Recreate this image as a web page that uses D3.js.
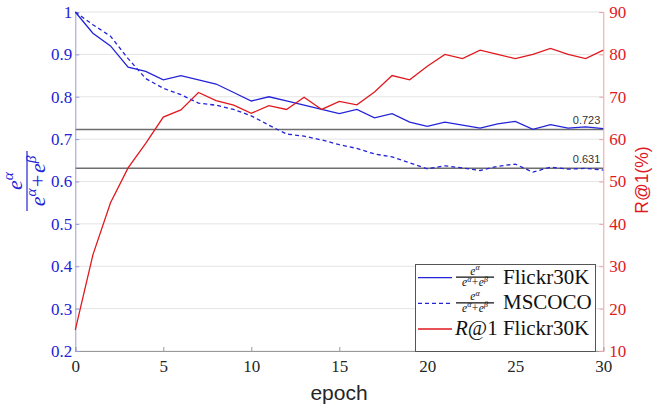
<!DOCTYPE html>
<html>
<head>
<meta charset="utf-8">
<script src="https://cdn.jsdelivr.net/npm/d3@7"></script>
<style>
  body { margin: 0; background: #fff; }
  svg { display: block; }
</style>
</head>
<body>
<svg id="chart" width="663" height="407"></svg>
<script>
// data
var epochs = [0, 1, 2, 3, 4, 5, 6, 7, 8, 9, 10, 11, 12, 13, 14, 15, 16, 17, 18, 19, 20,
              21, 22, 23, 24, 25, 26, 27, 28, 29, 30];
var flickrRatio = [1.0, 0.95, 0.92, 0.87, 0.86, 0.84, 0.85, 0.84, 0.83, 0.81, 0.79,
                   0.80, 0.79, 0.78, 0.77, 0.76, 0.77, 0.75, 0.76, 0.74, 0.73,
                   0.74, 0.733, 0.726, 0.736, 0.742, 0.723, 0.734, 0.726, 0.729, 0.725];
var cocoRatio = [1.0, 0.97, 0.943, 0.89, 0.843, 0.82, 0.805, 0.785, 0.78, 0.77, 0.755,
                 0.733, 0.712, 0.707, 0.698, 0.687, 0.678, 0.665, 0.658, 0.644, 0.63,
                 0.637, 0.632, 0.626, 0.636, 0.641, 0.622, 0.634, 0.629, 0.631, 0.627];
var flickrR1 = [15, 32.7, 45, 53.2, 59, 65.2, 66.9, 71, 69.1, 68, 66.1,
                67.9, 67, 69.9, 67, 68.9, 68.1, 71.1, 75, 74, 77.2,
                80, 79, 81, 80, 79, 80, 81.4, 80, 79, 81];
var refLevels = [0.723, 0.631];
var xTicks = [0, 5, 10, 15, 20, 25, 30];
var leftTicks = [0.2, 0.3, 0.4, 0.5, 0.6, 0.7, 0.8, 0.9, 1];
var rightTicks = [10, 20, 30, 40, 50, 60, 70, 80, 90];

var blue = "#2323d8", red = "#e0191f";
var serif = "'Liberation Serif', 'DejaVu Serif', serif";
var sans = "'Liberation Sans', Arial, sans-serif";

var svg = d3.select("#chart");
// plot box (window.top is read-only, so keep names distinct)
var plotL = 75.3, plotR = 603.3, plotT = 12, plotB = 351;

var x = d3.scaleLinear().domain([0, 30]).range([plotL, plotR]);
var yL = d3.scaleLinear().domain([0.2, 1]).range([plotB, plotT]);
var yR = d3.scaleLinear().domain([10, 90]).range([plotB, plotT]);

// grid lines
svg.append("g").selectAll("line")
  .data(leftTicks)
  .enter().append("line")
  .attr("x1", plotL).attr("x2", plotR)
  .attr("y1", function (d) { return yL(d); })
  .attr("y2", function (d) { return yL(d); })
  .attr("stroke", "#e4e4e4").attr("stroke-width", 1);

// reference lines with their labels
svg.append("g").selectAll("line")
  .data(refLevels)
  .enter().append("line")
  .attr("x1", plotL).attr("x2", plotR)
  .attr("y1", function (d) { return yL(d); })
  .attr("y2", function (d) { return yL(d); })
  .attr("stroke", "#6e6e6e").attr("stroke-width", 1.5);
svg.append("g").selectAll("text")
  .data(refLevels)
  .enter().append("text")
  .attr("x", plotR - 3)
  .attr("y", function (d) { return yL(d) - 5; })
  .attr("text-anchor", "end")
  .attr("font-family", sans).attr("font-size", 11)
  .attr("fill", "#333")
  .text(function (d) { return d3.format(".3f")(d); });

// axes
var xAxis = svg.append("g")
  .attr("transform", "translate(0," + plotB + ")")
  .call(d3.axisBottom(x).tickValues(xTicks).tickSize(-4).tickPadding(9).tickFormat(d3.format("d")));
xAxis.select(".domain").attr("stroke", "#9a9a9a");
xAxis.selectAll(".tick line").attr("stroke", "#9a9a9a");
xAxis.selectAll("text").attr("font-family", serif).attr("font-size", 17).attr("fill", "#262626");

var lAxis = svg.append("g")
  .attr("transform", "translate(" + plotL + ",0)")
  .call(d3.axisLeft(yL).tickValues(leftTicks).tickSize(-4).tickPadding(3)
    .tickFormat(function (d) { return d === 1 ? "1" : d.toFixed(1); }));
lAxis.select(".domain").attr("stroke", "#9c9cd2");
lAxis.selectAll(".tick line").attr("stroke", "#9c9cd2");
lAxis.selectAll("text").attr("font-family", serif).attr("font-size", 17).attr("fill", blue);

var rAxis = svg.append("g")
  .attr("transform", "translate(" + plotR + ",0)")
  .call(d3.axisRight(yR).tickValues(rightTicks).tickSize(-4).tickPadding(6));
rAxis.select(".domain").attr("stroke", "#eba3a3");
rAxis.selectAll(".tick line").attr("stroke", "#eba3a3");
rAxis.selectAll("text").attr("font-family", serif).attr("font-size", 17).attr("fill", red);

// series
var lineL = d3.line()
  .x(function (d, i) { return x(epochs[i]); })
  .y(function (d) { return yL(d); });
var lineR = d3.line()
  .x(function (d, i) { return x(epochs[i]); })
  .y(function (d) { return yR(d); });

svg.append("path").datum(flickrRatio)
  .attr("d", lineL).attr("fill", "none")
  .attr("stroke", blue).attr("stroke-width", 1.3);
svg.append("path").datum(cocoRatio)
  .attr("d", lineL).attr("fill", "none")
  .attr("stroke", blue).attr("stroke-width", 1.3).attr("stroke-dasharray", "4,3");
svg.append("path").datum(flickrR1)
  .attr("d", lineR).attr("fill", "none")
  .attr("stroke", red).attr("stroke-width", 1.3);

// fraction e^a / (e^a + e^b) drawn with text pieces
function fraction(g, size, barLen, numDy, denDy, gap) {
  var num = g.append("text")
    .attr("y", numDy).attr("text-anchor", "middle")
    .attr("font-family", serif).attr("font-style", "italic").attr("font-size", size);
  num.append("tspan").text("e");
  num.append("tspan").attr("dy", -size * 0.4).attr("font-size", size * 0.7).text("α");
  g.append("line")
    .attr("x1", -barLen / 2).attr("x2", barLen / 2)
    .attr("stroke", g.attr("fill")).attr("stroke-width", 1.2);
  var den = g.append("text")
    .attr("y", denDy).attr("text-anchor", "middle")
    .attr("font-family", serif).attr("font-style", "italic").attr("font-size", size);
  den.append("tspan").text("e");
  den.append("tspan").attr("dy", -size * 0.4).attr("font-size", size * 0.7).text("α");
  den.append("tspan").attr("dy", size * 0.4).attr("dx", gap).attr("font-style", "normal").text("+");
  den.append("tspan").attr("dx", gap).text("e");
  den.append("tspan").attr("dy", -size * 0.4).attr("font-size", size * 0.7).text("β");
}

// left axis label
var yLab = svg.append("g")
  .attr("transform", "translate(27,181) rotate(-90)")
  .attr("fill", blue);
fraction(yLab, 22, 60, -5, 18, 1.5);

// right axis label
svg.append("text")
  .attr("transform", "translate(648,180) rotate(-90)")
  .attr("text-anchor", "middle")
  .attr("font-family", sans).attr("font-size", 17.5)
  .attr("fill", red)
  .text("R@1(%)");

// x label
svg.append("text")
  .attr("x", 339).attr("y", 400)
  .attr("text-anchor", "middle")
  .attr("font-family", sans).attr("font-size", 21)
  .attr("fill", "#262626")
  .text("epoch");

// legend
var legend = svg.append("g");
legend.append("rect")
  .attr("x", 415.5).attr("y", 264.5).attr("width", 180).attr("height", 87)
  .attr("fill", "#fff").attr("stroke", "#555").attr("stroke-width", 1);

var legendRows = [
  { y: 277.7, color: blue, dash: null, frac: true, label: "Flickr30K" },
  { y: 303.3, color: blue, dash: "4,3", frac: true, label: "MSCOCO" },
  { y: 329, color: red, dash: null, frac: false, label: "Flickr30K" }
];
legendRows.forEach(function (r) {
  legend.append("line")
    .attr("x1", 418).attr("x2", 452)
    .attr("y1", r.y).attr("y2", r.y)
    .attr("stroke", r.color).attr("stroke-width", 1.3)
    .attr("stroke-dasharray", r.dash);
  if (r.frac) {
    var fg = legend.append("g")
      .attr("transform", "translate(475," + (r.y - 0.5) + ")")
      .attr("fill", "#111");
    fraction(fg, 11.5, 38, -2.5, 9, 0.5);
    legend.append("text")
      .attr("x", 503).attr("y", r.y + 6)
      .attr("font-family", serif).attr("font-size", 21).attr("fill", "#111")
      .text(r.label);
  } else {
    var t = legend.append("text")
      .attr("x", 455).attr("y", r.y + 6)
      .attr("font-family", serif).attr("font-size", 21).attr("fill", "#111");
    t.append("tspan").attr("font-style", "italic").text("R");
    t.append("tspan").text("@1 " + r.label);
  }
});
</script>
</body>
</html>
